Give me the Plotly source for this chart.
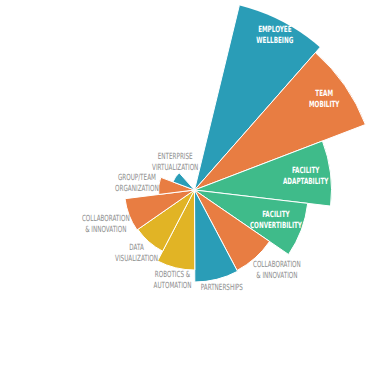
import plotly.graph_objects as go

# ---- data ----
categories = [
    "EMPLOYEE<br>WELLBEING",
    "TEAM<br>MOBILITY",
    "FACILITY<br>ADAPTABILITY",
    "FACILITY<br>CONVERTIBILITY",
    "COLLABORATION<br>& INNOVATION",
    "PARTNERSHIPS",
    "ROBOTICS &<br>AUTOMATION",
    "DATA<br>VISUALIZATION",
    "COLLABORATION<br>& INNOVATION",
    "GROUP/TEAM<br>ORGANIZATION",
    "ENTERPRISE<br>VIRTUALIZATION",
]
values = [194, 183, 137, 114, 91, 92, 80, 69, 70, 36, 23]
group = ["teal", "orange", "green", "green", "orange", "teal",
         "yellow", "yellow", "orange", "orange", "teal"]

# ---- style ----
palette = {"teal": "#2a9db7", "orange": "#e87d42",
           "green": "#3fbb8a", "yellow": "#e1b425"}
slots = 13
slot_w = 360 / slots
theta = [i * slot_w for i in range(len(values))]
colors = [palette[g] for g in group]

# label placement (radius in axis units, angular tweak in degrees)
inside = [True, True, True, True, False, False, False, False, False, False, False]
label_r = [174, 158, 112, 87, 115, 102, 93, 86, 95, 58, 34]
label_dt = [0, 0, 0, 0, -4, -1.5, 0, 1, 0, 0, 21]

FONT = "Liberation Sans Narrow, DejaVu Sans Condensed, sans-serif"

fig = go.Figure()
fig.add_trace(go.Barpolar(
    r=values, theta=theta, width=[slot_w] * len(values),
    marker=dict(color=colors, line=dict(color="white", width=1)),
    hoverinfo="skip",
))
fig.add_trace(go.Scatterpolar(
    r=label_r,
    theta=[t + d for t, d in zip(theta, label_dt)],
    mode="text",
    text=[("<b>%s</b>" % c) if ins else c for c, ins in zip(categories, inside)],
    textfont=dict(
        family=FONT,
        size=8.5,
        color=["white" if ins else "#8c8c8c" for ins in inside],
    ),
    hoverinfo="skip",
))

fig.update_layout(
    width=389, height=386,
    margin=dict(l=0, r=0, t=0, b=0),
    paper_bgcolor="white",
    showlegend=False,
    font=dict(family=FONT),
    polar=dict(
        domain=dict(x=[0, 1], y=[0.0155, 1]),
        bgcolor="white",
        bargap=0,
        radialaxis=dict(range=[0, 190], visible=False),
        angularaxis=dict(visible=False, direction="clockwise", rotation=90 - 27.5),
    ),
)

squeeze = """
document.body.style.margin='0';
document.body.style.overflow='hidden';
var gd = document.getElementById('{plot_id}');
gd.querySelectorAll('.textpoint text').forEach(function(t){
  var x = parseFloat(t.getAttribute('x')) || 0;
  t.setAttribute('transform', 'translate(' + x + ' 0) scale(0.74 1) translate(' + (-x) + ' 0)');
});
"""

fig.write_html("out.html", config={"displayModeBar": False, "staticPlot": True},
               post_script=squeeze)
